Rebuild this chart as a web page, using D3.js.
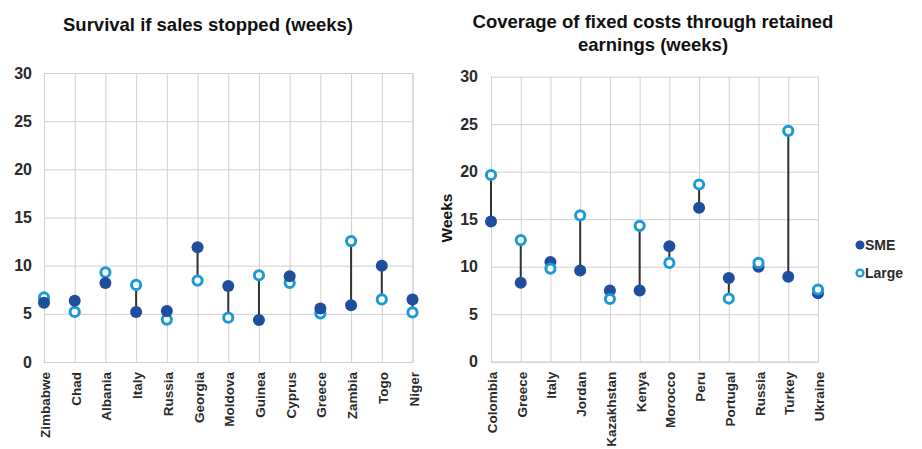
<!DOCTYPE html>
<html>
<head>
<meta charset="utf-8">
<script src="https://cdn.jsdelivr.net/npm/d3@7"></script>
<style>
  html, body { margin: 0; padding: 0; background: #fff; }
  svg { display: block; font-family: "Liberation Sans", Arial, sans-serif; }
</style>
</head>
<body>
<svg id="chart" width="922" height="449"></svg>
<script>
// ---- Data ----
const leftCategories = ["Zimbabwe","Chad","Albania","Italy","Russia","Georgia","Moldova","Guinea","Cyprus","Greece","Zambia","Togo","Niger"];
const leftSME   = [6.15, 6.35, 8.2, 5.2, 5.3, 11.9, 7.9, 4.35, 8.9, 5.55, 5.9, 10.0, 6.5];
const leftLarge = [6.7, 5.2, 9.3, 8.0, 4.4, 8.45, 4.6, 9.0, 8.2, 5.05, 12.55, 6.5, 5.15];

const rightCategories = ["Colombia","Greece","Italy","Jordan","Kazakhstan","Kenya","Morocco","Peru","Portugal","Russia","Turkey","Ukraine"];
const rightSME   = [14.75, 8.3, 10.5, 9.6, 7.5, 7.5, 12.15, 16.2, 8.8, 10.0, 8.95, 7.2];
const rightLarge = [19.65, 12.8, 9.8, 15.4, 6.6, 14.3, 10.4, 18.65, 6.65, 10.4, 24.3, 7.6];

const yTicks = [0, 5, 10, 15, 20, 25, 30];
const seriesNames = ["SME", "Large"];

const leftTitle = ["Survival if sales stopped (weeks)"];
const rightTitle = ["Coverage of fixed costs through retained", "earnings (weeks)"];
const rightYLabel = "Weeks";

// ---- Styles ----
const SME_COLOR = "#1f4e9e";
const LARGE_COLOR = "#1d9ad6";
const GRID = "#cfcfcf";
const TEXT = "#2a2a2a";

const svg = d3.select("#chart");

function drawPanel(cfg) {
  const x = d3.scalePoint().domain(cfg.categories).range([cfg.x0, cfg.x1]);
  const y = d3.scaleLinear().domain([0, 30]).range([cfg.y0, cfg.y1]);
  const g = svg.append("g");

  // horizontal gridlines + y labels
  const yAxis = d3.axisLeft(y).tickValues(yTicks).tickSize(-(cfg.x1 - cfg.x0)).tickPadding(cfg.tickPad);
  const ya = g.append("g").attr("transform", `translate(${cfg.x0},0)`).call(yAxis);
  ya.select(".domain").remove();
  ya.selectAll(".tick line").attr("stroke", GRID).attr("stroke-width", 1);
  ya.selectAll(".tick text").attr("fill", TEXT)
    .attr("font-weight", "bold").style("font-size", "16px");

  // vertical gridlines + category labels
  const xAxis = d3.axisBottom(x).tickSize(-(cfg.y0 - cfg.y1)).tickPadding(0);
  const xa = g.append("g").attr("transform", `translate(0,${cfg.y0})`).call(xAxis);
  xa.select(".domain").attr("stroke", GRID).attr("stroke-width", 1);
  xa.selectAll(".tick line").attr("stroke", GRID).attr("stroke-width", 1);
  xa.selectAll(".tick text")
    .attr("fill", TEXT)
    .attr("font-weight", "bold")
    .style("font-size", "13.5px")
    .attr("text-anchor", "end")
    .attr("dy", null)
    .attr("y", 0)
    .attr("transform", "translate(5.5,10) rotate(-90)");

  // connectors
  const data = cfg.categories.map((c, i) => ({ c, sme: cfg.sme[i], large: cfg.large[i] }));
  g.append("g").selectAll("line").data(data).join("line")
    .attr("x1", d => x(d.c)).attr("x2", d => x(d.c))
    .attr("y1", d => y(d.sme)).attr("y2", d => y(d.large))
    .attr("stroke", "#333").attr("stroke-width", 2);

  const drawSME = () => g.append("g").selectAll("circle").data(data).join("circle")
    .attr("cx", d => x(d.c)).attr("cy", d => y(d.sme)).attr("r", 6)
    .attr("fill", SME_COLOR);
  const drawLarge = () => g.append("g").selectAll("circle").data(data).join("circle")
    .attr("cx", d => x(d.c)).attr("cy", d => y(d.large)).attr("r", 4.6)
    .attr("fill", "#fff").attr("stroke", LARGE_COLOR).attr("stroke-width", 3);
  if (cfg.smeOnTop) { drawLarge(); drawSME(); } else { drawSME(); drawLarge(); }

  // title
  const t = g.append("text").attr("text-anchor", "middle")
    .attr("font-weight", "bold").attr("fill", "#111").style("font-size", "18.5px");
  cfg.title.forEach((line, i) => {
    t.append("tspan").attr("x", cfg.titleX).attr("y", cfg.titleY + i * 23).text(line);
  });
  return { x, y, g };
}

drawPanel({
  categories: leftCategories, sme: leftSME, large: leftLarge,
  x0: 44, x1: 412.5, y0: 362, y1: 73, tickPad: 12,
  title: leftTitle, titleX: 208, titleY: 31, smeOnTop: true
});

drawPanel({
  categories: rightCategories, sme: rightSME, large: rightLarge,
  x0: 491, x1: 818, y0: 361.7, y1: 76.7, tickPad: 13,
  title: rightTitle, titleX: 653, titleY: 27.5, smeOnTop: false
});

// y axis title
svg.append("text")
  .attr("transform", "translate(452,218) rotate(-90)")
  .attr("text-anchor", "middle")
  .attr("font-weight", "bold").attr("fill", "#111").style("font-size", "15.5px")
  .text(rightYLabel);

// legend
const legend = svg.append("g");
seriesNames.forEach((name, i) => {
  const yy = 245 + i * 28;
  if (i === 0) {
    legend.append("circle").attr("cx", 860).attr("cy", yy).attr("r", 4.5).attr("fill", SME_COLOR);
  } else {
    legend.append("circle").attr("cx", 860).attr("cy", yy).attr("r", 3.4)
      .attr("fill", "#fff").attr("stroke", LARGE_COLOR).attr("stroke-width", 2.4);
  }
  legend.append("text").attr("x", 865).attr("y", yy + 5)
    .attr("fill", TEXT).attr("font-weight", "bold").style("font-size", "14px").text(name);
});
</script>
</body>
</html>
